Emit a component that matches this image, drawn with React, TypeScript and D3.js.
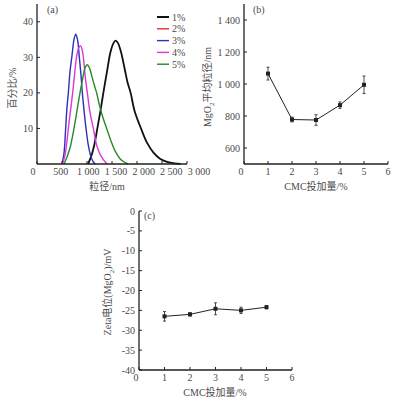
import React from 'react'
import * as d3 from 'd3'

// (a) particle size distribution, [size nm, percent]
const sizeSeries = ['1%', '2%', '3%', '4%', '5%']
const sizeColors = ['#111111', '#e0302a', '#2f2fb8', '#d83ad8', '#268a26']
const dist1: [number, number][] = [[1020,0],[1080,2],[1140,5],[1207,10],[1270,15],[1327,20],[1400,26],[1470,31.5],[1530,34],[1573,34.7],[1620,34],[1680,31.5],[1750,27],[1810,23],[1873,20],[1950,15],[2080,10],[2200,6],[2330,3.2],[2460,1.5],[2600,0.6],[2750,0.15],[2870,0]]
const dist2: [number, number][] = []
const dist3: [number, number][] = [[500,0],[540,3],[573,10],[600,16],[627,20],[660,26],[700,30.5],[740,35],[775,36.5],[810,35],[847,30],[880,25],[907,20],[945,14.5],[980,10],[1030,5],[1080,2],[1130,0.5],[1170,0]]
const dist4: [number, number][] = [[510,0],[560,2.5],[600,6.5],[627,10],[670,15],[713,20],[750,25],[790,30],[830,32.5],[867,33.3],[905,32],[935,29],[965,24.5],[1007,20],[1060,14.5],[1127,10],[1200,5],[1290,2],[1400,0]]
const dist5: [number, number][] = [[540,0],[600,2],[660,4.5],[700,7],[740,10],[800,15],[860,20],[920,24.5],[960,27],[1007,27.9],[1050,27],[1100,24.5],[1150,22],[1193,20],[1250,16.5],[1320,13],[1393,10],[1480,6.5],[1570,3.5],[1680,1.2],[1820,0]]
const dists = [dist1, dist2, dist3, dist4, dist5]
const sizeTicks = [0, 500, 1000, 1500, 2000, 2500, 3000]
const sizeTickLabels = ['0', '500', '1 000', '1 500', '2 000', '2 500', '3 000']
const pctTicks = [10, 20, 30, 40]

// (b) mean size vs CMC dosage
const cmc = [1, 2, 3, 4, 5]
const meanSize = [1065, 778, 775, 868, 995]
const meanSizeErr = [40, 15, 33, 20, 55]
const meanTicks = [600, 800, 1000, 1200, 1400]
const meanTickLabels = ['600', '800', '1 000', '1 200', '1 400']

// (c) zeta potential vs CMC dosage
const zeta = [-26.5, -26.0, -24.6, -25.0, -24.2]
const zetaErr = [1.2, 0.4, 1.5, 0.8, 0.4]
const zetaTicks = [0, -5, -10, -15, -20, -25, -30, -35, -40]
const cmcTicks = [0, 1, 2, 3, 4, 5, 6]

const font = "'Liberation Serif', 'Noto Sans CJK SC', serif"
const ink = '#222'
const txt = '#4a4a4a'

const YAxis = ({ x, y, ticks, labels }: any) => (
  <g>
    <line x1={x(x.domain()[0])} x2={x(x.domain()[0])} y1={y.range()[0]} y2={y.range()[1]} stroke={ink} strokeWidth={1.3} />
    {ticks.map((t: number, i: number) => (
      <g key={t}>
        <line x1={x(x.domain()[0])} x2={x(x.domain()[0]) + 3} y1={y(t)} y2={y(t)} stroke={ink} strokeWidth={1} />
        <text x={x(x.domain()[0]) - 4} y={y(t) + 3.5} textAnchor="end" fontSize={10} fill={txt}>{labels ? labels[i] : t}</text>
      </g>
    ))}
  </g>
)

const XAxis = ({ x, y, ticks, labels, y0, lx }: any) => {
  const yy = y(y0)
  const pos = lx || ((t: number) => x(t))
  return (
    <g>
      <line x1={x.range()[0]} x2={x.range()[1]} y1={yy} y2={yy} stroke={ink} strokeWidth={1.3} />
      {ticks.map((t: number, i: number) => (
        <g key={t}>
          <line x1={x(t)} x2={x(t)} y1={yy} y2={yy - 3} stroke={ink} strokeWidth={1} />
          <text x={pos(t) + (i === 0 && !lx ? -3 : 0)} y={yy + 11} textAnchor="middle" fontSize={10} fill={txt}>{labels ? labels[i] : t}</text>
        </g>
      ))}
    </g>
  )
}

const ErrLine = ({ x, y, vals, errs }: any) => {
  const line = d3.line<number>().x((_, i) => x(cmc[i])).y(d => y(d))
  return (
    <g>
      <path d={line(vals) || ''} fill="none" stroke={ink} strokeWidth={1} />
      {vals.map((v: number, i: number) => (
        <g key={i}>
          <line x1={x(cmc[i])} x2={x(cmc[i])} y1={y(v - errs[i])} y2={y(v + errs[i])} stroke={ink} strokeWidth={0.8} />
          <line x1={x(cmc[i]) - 1.5} x2={x(cmc[i]) + 1.5} y1={y(v - errs[i])} y2={y(v - errs[i])} stroke={ink} strokeWidth={0.8} />
          <line x1={x(cmc[i]) - 1.5} x2={x(cmc[i]) + 1.5} y1={y(v + errs[i])} y2={y(v + errs[i])} stroke={ink} strokeWidth={0.8} />
          <rect x={x(cmc[i]) - 2} y={y(v) - 2} width={4} height={4} fill={ink} />
        </g>
      ))}
    </g>
  )
}

export default function App() {
  // panel a
  const xa = d3.scaleLinear().domain([0, 3000]).range([37, 187])
  const xaLabel = d3.scaleLinear().domain([0, 3000]).range([33, 199])
  const ya = d3.scaleLinear().domain([0, 45]).range([164, 4])
  const curve = d3.line<[number, number]>().x(d => xa(d[0])).y(d => ya(d[1])).curve(d3.curveCatmullRom)

  // panel b
  const xb = d3.scaleLinear().domain([0, 6]).range([244, 388])
  const yb = d3.scaleLinear().domain([500, 1500]).range([164, 4])

  // panel c
  const xc = d3.scaleLinear().domain([0, 6]).range([139, 292])
  const yc = d3.scaleLinear().domain([-40, 0]).range([370, 211])

  return (
    <svg width={397} height={401} style={{ position: 'absolute', left: 0, top: 0, background: '#fff' }} fontFamily={font}>
      {/* (a) */}
      {dists.map((d, i) => d.length ? (
        <path key={i} d={curve(d) || ''} fill="none" stroke={sizeColors[i]} strokeWidth={i === 0 ? 1.8 : 1.4} />
      ) : null)}
      <YAxis x={xa} y={ya} ticks={pctTicks} />
      <XAxis x={xa} y={ya} ticks={sizeTicks} labels={sizeTickLabels} y0={0} lx={xaLabel} />
      <text x={47} y={13} fontSize={10} fill={txt}>(a)</text>
      {sizeSeries.map((s, i) => (
        <g key={s}>
          <line x1={157} x2={169} y1={17 + i * 11.8} y2={17 + i * 11.8} stroke={sizeColors[i]} strokeWidth={i === 0 ? 2 : 1.4} />
          <text x={172} y={20.5 + i * 11.8} fontSize={10} fill={txt}>{s}</text>
        </g>
      ))}
      <text x={107} y={190} textAnchor="middle" fontSize={10} fill={txt}>粒径/nm</text>
      <text transform="translate(16,88) rotate(-90)" textAnchor="middle" fontSize={10} fill={txt}>百分比/%</text>

      {/* (b) */}
      <ErrLine x={xb} y={yb} vals={meanSize} errs={meanSizeErr} />
      <YAxis x={xb} y={yb} ticks={meanTicks} labels={meanTickLabels} />
      <XAxis x={xb} y={yb} ticks={cmcTicks} y0={500} />
      <text x={253} y={13} fontSize={10} fill={txt}>(b)</text>
      <text x={316} y={190} textAnchor="middle" fontSize={10} fill={txt}>CMC投加量/%</text>
      <text transform="translate(211,87) rotate(-90)" textAnchor="middle" fontSize={10} fill={txt}>
        MgO<tspan fontSize={7} dy={3}>2</tspan><tspan dy={-3}>平均粒径/nm</tspan>
      </text>

      {/* (c) */}
      <ErrLine x={xc} y={yc} vals={zeta} errs={zetaErr} />
      <YAxis x={xc} y={yc} ticks={zetaTicks} />
      <XAxis x={xc} y={yc} ticks={cmcTicks} y0={-40} />
      <text x={144} y={219} fontSize={10} fill={txt}>(c)</text>
      <text x={215} y={396} textAnchor="middle" fontSize={10} fill={txt}>CMC投加量/%</text>
      <text transform="translate(111,292) rotate(-90)" textAnchor="middle" fontSize={10} fill={txt}>
        Zeta电位(MgO<tspan fontSize={7} dy={3}>2</tspan><tspan dy={-3}>)/mV</tspan>
      </text>
    </svg>
  )
}
